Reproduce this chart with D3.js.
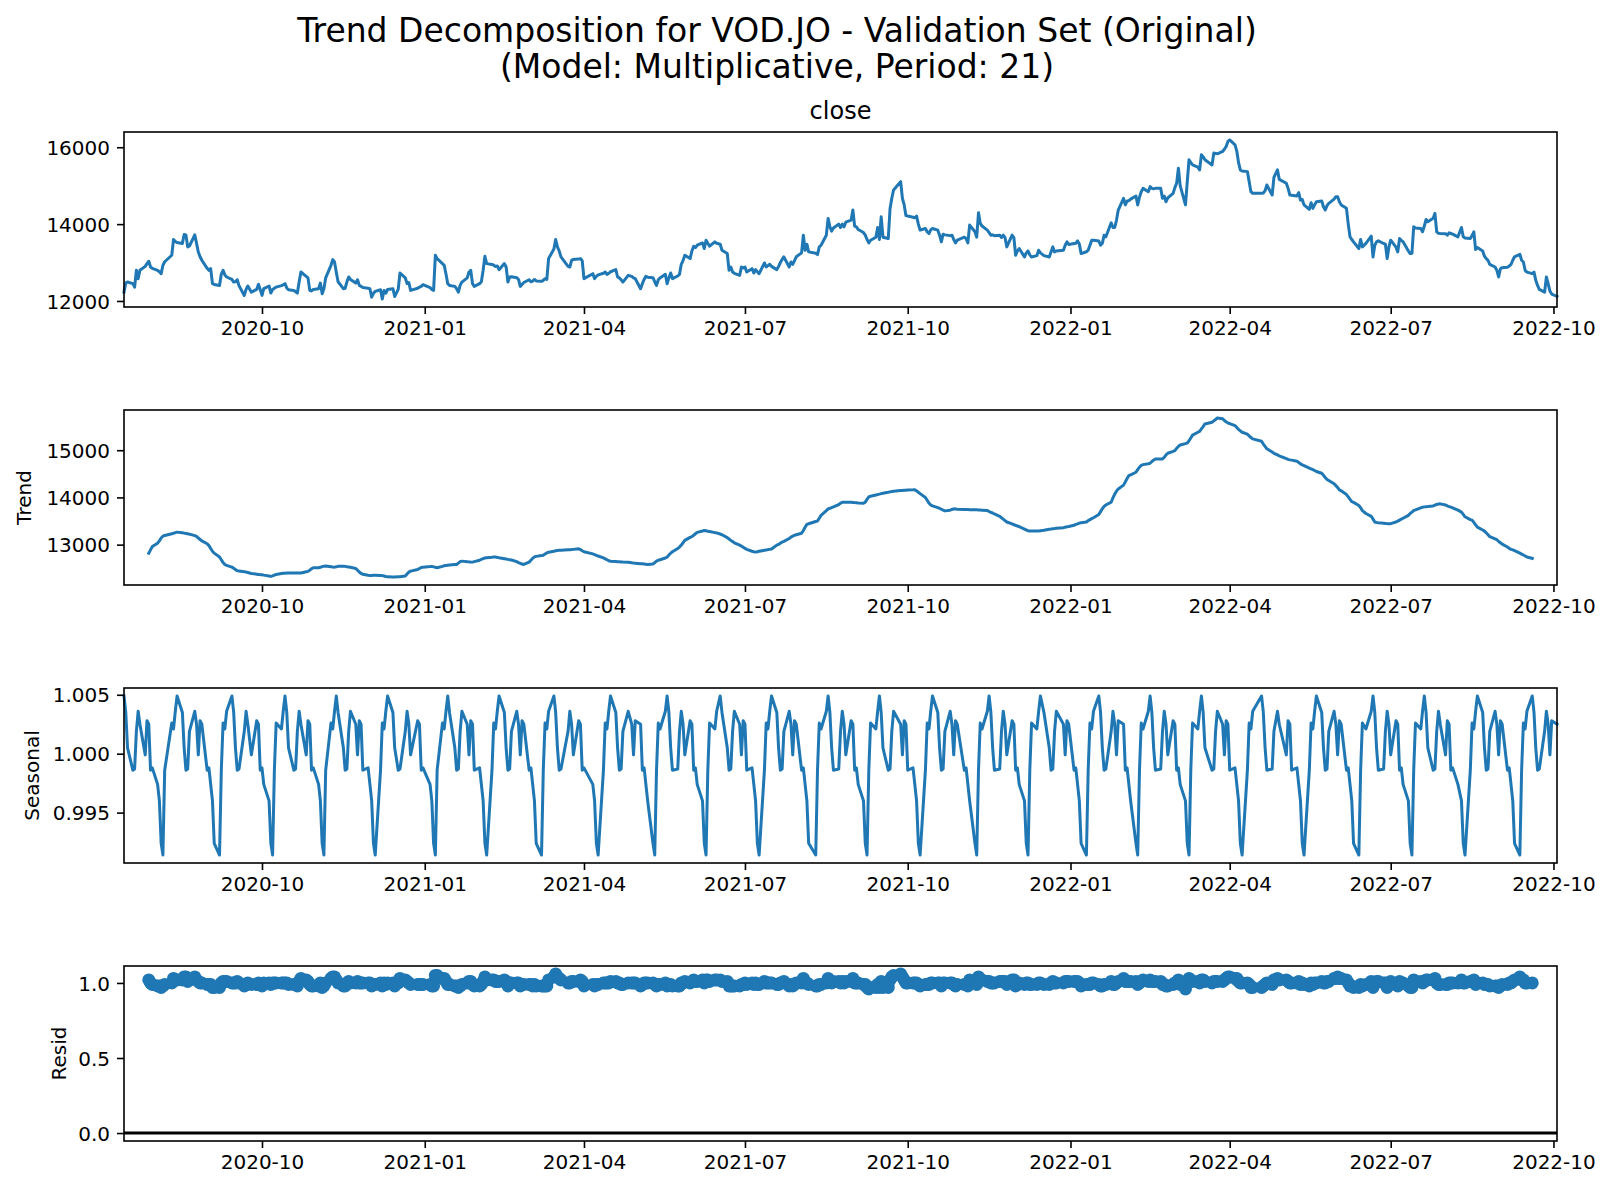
<!DOCTYPE html>
<html>
<head>
<meta charset="utf-8">
<script src="https://cdn.jsdelivr.net/npm/d3@7"></script>
<style>
  body { margin: 0; background: #fff; }
  svg { display: block; }
</style>
</head>
<body>
<div id="chart"></div>
<script>
///// DATA

const titleLines = ['Trend Decomposition for VOD.JO - Validation Set (Original)', '(Model: Multiplicative, Period: 21)'];

// JSE sessions: weekdays between these dates, minus public holidays
const firstSession = '2020-07-15';
const lastSession = '2022-10-03';
const holidays = ['2020-08-10', '2020-09-24', '2020-12-16', '2020-12-25', '2021-01-01', '2021-03-22',
  '2021-04-02', '2021-04-05', '2021-04-27', '2021-06-16', '2021-08-09', '2021-09-24', '2021-11-01',
  '2021-12-16', '2021-12-27', '2022-03-21', '2022-04-15', '2022-04-18', '2022-04-27', '2022-05-02',
  '2022-06-16', '2022-08-09'];

// observed close, one row per month
const close = [
  12230, 12470, 12492, 12450, 12361, 12797, 12580, 12800, 12900, 12972, 13033, 12884, 12850,
  12797, 12760, 12710, 12928, 13020, 13190, 13600, 13550, 13520, 13495, 13730, 13720, 13407, 13430, 13720, 13500, 13276, 13150, 13059, 12850,
  12797, 12840, 12450, 12430, 12405, 12700, 12797, 12680, 12624, 12560, 12492, 12500, 12553, 12400, 12144, 12300, 12390, 12230, 12300, 12432, 12300,
  12144, 12319, 12390, 12205, 12300, 12330, 12361, 12400, 12420, 12450, 12340, 12290, 12275, 12240, 12205, 12500, 12754, 12640, 12600, 12275, 12260, 12300,
  12319, 12466, 12190, 12319, 12600, 12928, 13077, 13017, 12750, 12500, 12319, 12330, 12500, 12624, 12560, 12466, 12553, 12405, 12380, 12350, 12330,
  12319, 12100, 12200, 12250, 12292, 12050, 12275, 12200, 12300, 12319, 12117, 12300, 12728, 12600, 12450, 12480, 12275, 12330, 12360, 12380, 12424,
  12350, 12300, 12275, 13190, 13100, 12972, 12928, 12700, 12450, 12405, 12380, 12319, 12230, 12405, 12492, 12600, 12754, 12797, 12450, 12380,
  12450, 12500, 12800, 13164, 12972, 12950, 12930, 12900, 12910, 12815, 12972, 12884, 12492, 12624, 12630, 12606, 12560, 12380, 12430, 12480,
  12553, 12500, 12519, 12560, 12520, 12510, 12536, 12580, 12560, 13103, 13350, 13600, 13407, 13300, 13146, 12900, 12884, 13059, 13080, 13090, 13103, 13050,
  12580, 12710, 12580, 12640, 12680, 12720, 12754, 12693, 12720, 12760, 12815, 12624, 12600, 12550, 12492, 12667, 12640, 12600, 12580,
  12319, 12450, 12560, 12640, 12620, 12606, 12500, 12405, 12553, 12600, 12693, 12450, 12600, 12728, 12580, 12650, 12693, 12954, 13050, 13190, 13103,
  13300, 13425, 13390, 13450, 13510, 13364, 13580, 13500, 13425, 13538, 13500, 13477, 13320, 13233, 12797, 12884, 12754, 12720, 12667, 12884, 12860,
  12884, 12754, 12840, 12728, 12815, 12760, 12710, 12989, 12884, 12920, 12954, 12900, 12815, 12900, 13000, 13080, 13146, 12884, 13015, 12954, 13050, 13150,
  13251, 13712, 13320, 13477, 13277, 13240, 13207, 13407, 13450, 13712, 14149, 13930, 13817, 13900, 14000, 13913, 14000, 13930, 14050, 14105, 14366,
  13948, 13930, 13860, 13780, 13712, 13600, 13512, 13580, 13660, 13913, 13600, 14191, 13660, 13625, 14400, 14672, 14888, 15106, 14672, 14500, 14220,
  14209, 14180, 14166, 14209, 14000, 13843, 13887, 13800, 13756, 13850, 13887, 13843, 13712, 13538, 13738, 13720, 13700, 13712, 13600, 13512, 13582,
  13660, 13620, 13512, 13974, 13800, 13660, 14296, 14017, 13950, 13843, 13780, 13712, 13720, 13700, 13712, 13651, 13712, 13650, 13407, 13712, 13650,
  13190, 13300, 13364, 13146, 13250, 13303, 13200, 13146, 13180, 13320, 13251, 13180, 13146, 13277, 13407, 13277, 13300, 13320, 13450, 13538, 13469,
  13495, 13500, 13564, 13480, 13233, 13280, 13320, 13450, 13582, 13582, 13560, 13451, 13500, 13712, 13669, 14034, 13913, 13913, 14100, 14366, 14672,
  14500, 14600, 14610, 14650, 14730, 14500, 14700, 14844, 14930, 14844, 14975, 14930, 14920, 14930, 14930, 14672, 14730, 14583, 14680, 14800,
  14950, 15062, 15456, 15000, 14500, 15100, 15673, 15600, 15540, 15480, 15410, 15803, 15750, 15673, 15540, 15848, 15840, 15830, 15890, 15950, 16020, 16150,
  16190, 16064, 15900, 15600, 15410, 15380, 15366, 15100, 14844, 14800, 14800, 14810, 14870, 15017, 14757, 15215, 15410, 15164,
  15062, 14930, 14757, 14750, 14730, 14818, 14626, 14640, 14500, 14383, 14557, 14410, 14500, 14583, 14600, 14450, 14366, 14480, 14540, 14650, 14713,
  14713, 14583, 14500, 14410, 14000, 13669, 13600, 13538, 13364, 13600, 13407, 13500, 13686, 13146, 13450, 13538, 13564, 13495, 13480, 13103, 13407,
  13582, 13400, 13277, 13625, 13580, 13538, 13300, 13233, 13240, 13930, 13900, 13887, 13800, 13950, 14122, 14060, 14150, 14279, 13800, 13760, 13756,
  13750, 13712, 13773, 13756, 13740, 13669, 13913, 13669, 13640, 13625, 13700, 13800, 13338, 13390, 13300, 13164, 13100, 13059, 12950, 12884, 12797, 12624,
  12840, 12867, 12880, 12910, 12950, 13059, 13150, 13216, 13059, 13015, 12797, 12750, 12710, 12754, 12536, 12405, 12300, 12230, 12624, 12450, 12258, 12180,
  12119
];

// trend (centred 21-session moving average, empty at both ends)
const trend = [
  null, null, null, null, null, null, null, null, null, null,
  12820, 12890, 12962,
  13031, 13080, 13140, 13180, 13195, 13232, 13240, 13255, 13265, 13250, 13244, 13238, 13230, 13222, 13190, 13174, 13140, 13110, 13080, 13019,
  12980, 12920, 12860, 12820, 12740, 12680, 12620, 12580, 12560, 12524, 12500, 12470, 12450, 12440, 12425, 12419, 12410, 12390, 12375, 12370, 12365,
  12363, 12355, 12335, 12328, 12340, 12355, 12370, 12388, 12392, 12395, 12398, 12399, 12399, 12399, 12400, 12400, 12400, 12425, 12434, 12460, 12490, 12512,
  12512, 12520, 12535, 12545, 12547, 12530, 12525, 12524, 12530, 12540, 12545, 12540, 12530, 12525, 12520, 12495, 12460, 12420, 12390, 12372, 12352,
  12349, 12349, 12350, 12350, 12349, 12345, 12335, 12325, 12318, 12314, 12316, 12320, 12322, 12335, 12380, 12419, 12440, 12475, 12495, 12515, 12524,
  12535, 12540, 12530, 12520, 12512, 12540, 12555, 12560, 12565, 12570, 12578, 12580, 12610, 12640, 12651, 12640, 12635, 12632, 12630, 12640,
  12670, 12690, 12705, 12718, 12725, 12733, 12737, 12737, 12730, 12722, 12702, 12695, 12688, 12682, 12675, 12640, 12620, 12605, 12590, 12580,
  12630, 12670, 12710, 12740, 12752, 12768, 12775, 12800, 12825, 12840, 12860, 12870, 12877, 12880, 12882, 12890, 12891, 12895, 12900, 12912, 12895, 12870,
  12850, 12805, 12790, 12775, 12760, 12720, 12700, 12680, 12660, 12650, 12642, 12640, 12638, 12635, 12632, 12628, 12615, 12610, 12607,
  12598, 12595, 12590, 12585, 12582, 12590, 12620, 12650, 12670, 12680, 12718, 12735, 12780, 12820, 12850, 12920, 12948, 12990, 13040, 13090, 13155,
  13170, 13200, 13230, 13260, 13290, 13301, 13295, 13285, 13278, 13255, 13248, 13225, 13210, 13150, 13120, 13090, 13065, 13040, 12990, 12970, 12945,
  12920, 12900, 12860, 12850, 12842, 12850, 12860, 12880, 12885, 12895, 12900, 12908, 12990, 13005, 13030, 13055, 13070, 13130, 13160, 13180, 13200, 13210,
  13240, 13300, 13370, 13430, 13442, 13490, 13500, 13560, 13620, 13720, 13758, 13770, 13785, 13800, 13850, 13875, 13899, 13899, 13900, 13899, 13895,
  13890, 13885, 13880, 13878, 13900, 13960, 14010, 14025, 14050, 14061, 14070, 14080, 14090, 14110, 14118, 14125, 14130, 14145, 14146, 14150, 14152,
  14155, 14160, 14160, 14140, 14110, 14080, 14000, 13940, 13880, 13840, 13820, 13785, 13770, 13750, 13730, 13715, 13730, 13745, 13758, 13755, 13750,
  13746, 13744, 13742, 13740, 13738, 13737, 13736, 13733, 13730, 13723, 13700, 13685, 13670, 13650, 13600, 13570, 13540, 13510, 13480, 13440, 13420,
  13410, 13395, 13380, 13330, 13310, 13295, 13288, 13287, 13287, 13290, 13295, 13305, 13325, 13330, 13336, 13340, 13345, 13360, 13370, 13378, 13385,
  13410, 13428, 13440, 13455, 13465, 13480, 13510, 13530, 13550, 13570, 13639, 13700, 13760, 13810, 13840, 13899, 13990, 14070, 14132, 14180, 14260,
  14330, 14400, 14463, 14480, 14533, 14590, 14640, 14680, 14695, 14715, 14723, 14760, 14790, 14815, 14815, 14815, 14850, 14900, 14935, 14975,
  14991, 15040, 15080, 15110, 15140, 15150, 15200, 15260, 15320, 15380, 15400, 15450, 15500, 15556, 15591, 15620, 15650, 15683, 15665, 15630, 15600, 15575,
  15565, 15521, 15480, 15440, 15410, 15380, 15340, 15300, 15270, 15240, 15190, 15130, 15080, 15030, 14960, 14935, 14900, 14880,
  14820, 14805, 14795, 14790, 14768, 14740, 14710, 14690, 14674, 14620, 14604, 14590, 14570, 14550, 14512, 14470, 14420, 14380, 14357, 14290, 14250,
  14210, 14160, 14140, 14061, 14010, 13960, 13910, 13895, 13829, 13780, 13720, 13660, 13600, 13540, 13480, 13470, 13465, 13455, 13450, 13445, 13441,
  13445, 13480, 13498, 13520, 13540, 13560, 13620, 13660, 13690, 13723, 13735, 13780, 13794, 13800, 13805, 13808, 13820, 13835, 13850, 13860, 13864,
  13840, 13820, 13805, 13795, 13780, 13730, 13690, 13640, 13590, 13530, 13520, 13470, 13420, 13370, 13310, 13287, 13250, 13210, 13170, 13120, 13104, 13070,
  13040, 13010, 12950, 12920, 12900, 12891, 12875, 12821, 12800, 12780, 12760, 12740, 12710,
  null, null, null, null, null, null, null, null, null, null
];

// seasonal factor, one row per 21-session cycle
const seasonal = [
  1.0049, 1.0035, 1.0005, 0.9986, 0.9987, 1.0019, 1.0036, 1.0025, 0.9999, 1.0028, 1.0025, 0.9986, 0.9988, 0.9974, 0.9960, 0.9924, 0.9914, 0.9986, 1.0026, 1.0021, 1.0036,
  1.0049, 1.0035, 1.0005, 0.9986, 0.9987, 1.0019, 1.0036, 1.0025, 0.9999, 1.0028, 1.0025, 0.9986, 0.9988, 0.9974, 0.9960, 0.9924, 0.9914, 0.9986, 1.0026, 1.0021, 1.0036,
  1.0049, 1.0035, 1.0005, 0.9986, 0.9987, 1.0019, 1.0036, 1.0025, 0.9999, 1.0028, 1.0025, 0.9986, 0.9988, 0.9974, 0.9960, 0.9924, 0.9914, 0.9986, 1.0026, 1.0021, 1.0036,
  1.0049, 1.0035, 1.0005, 0.9986, 0.9987, 1.0019, 1.0036, 1.0025, 0.9999, 1.0028, 1.0025, 0.9986, 0.9988, 0.9974, 0.9960, 0.9924, 0.9914, 0.9986, 1.0026, 1.0021, 1.0036,
  1.0049, 1.0035, 1.0005, 0.9986, 0.9987, 1.0019, 1.0036, 1.0025, 0.9999, 1.0028, 1.0025, 0.9986, 0.9988, 0.9974, 0.9960, 0.9924, 0.9914, 0.9986, 1.0026, 1.0021, 1.0036,
  1.0049, 1.0035, 1.0005, 0.9986, 0.9987, 1.0019, 1.0036, 1.0025, 0.9999, 1.0028, 1.0025, 0.9986, 0.9988, 0.9974, 0.9960, 0.9924, 0.9914, 0.9986, 1.0026, 1.0021, 1.0036,
  1.0049, 1.0035, 1.0005, 0.9986, 0.9987, 1.0019, 1.0036, 1.0025, 0.9999, 1.0028, 1.0025, 0.9986, 0.9988, 0.9974, 0.9960, 0.9924, 0.9914, 0.9986, 1.0026, 1.0021, 1.0036,
  1.0049, 1.0035, 1.0005, 0.9986, 0.9987, 1.0019, 1.0036, 1.0025, 0.9999, 1.0028, 1.0025, 0.9986, 0.9988, 0.9974, 0.9960, 0.9924, 0.9914, 0.9986, 1.0026, 1.0021, 1.0036,
  1.0049, 1.0035, 1.0005, 0.9986, 0.9987, 1.0019, 1.0036, 1.0025, 0.9999, 1.0028, 1.0025, 0.9986, 0.9988, 0.9974, 0.9960, 0.9924, 0.9914, 0.9986, 1.0026, 1.0021, 1.0036,
  1.0049, 1.0035, 1.0005, 0.9986, 0.9987, 1.0019, 1.0036, 1.0025, 0.9999, 1.0028, 1.0025, 0.9986, 0.9988, 0.9974, 0.9960, 0.9924, 0.9914, 0.9986, 1.0026, 1.0021, 1.0036,
  1.0049, 1.0035, 1.0005, 0.9986, 0.9987, 1.0019, 1.0036, 1.0025, 0.9999, 1.0028, 1.0025, 0.9986, 0.9988, 0.9974, 0.9960, 0.9924, 0.9914, 0.9986, 1.0026, 1.0021, 1.0036,
  1.0049, 1.0035, 1.0005, 0.9986, 0.9987, 1.0019, 1.0036, 1.0025, 0.9999, 1.0028, 1.0025, 0.9986, 0.9988, 0.9974, 0.9960, 0.9924, 0.9914, 0.9986, 1.0026, 1.0021, 1.0036,
  1.0049, 1.0035, 1.0005, 0.9986, 0.9987, 1.0019, 1.0036, 1.0025, 0.9999, 1.0028, 1.0025, 0.9986, 0.9988, 0.9974, 0.9960, 0.9924, 0.9914, 0.9986, 1.0026, 1.0021, 1.0036,
  1.0049, 1.0035, 1.0005, 0.9986, 0.9987, 1.0019, 1.0036, 1.0025, 0.9999, 1.0028, 1.0025, 0.9986, 0.9988, 0.9974, 0.9960, 0.9924, 0.9914, 0.9986, 1.0026, 1.0021, 1.0036,
  1.0049, 1.0035, 1.0005, 0.9986, 0.9987, 1.0019, 1.0036, 1.0025, 0.9999, 1.0028, 1.0025, 0.9986, 0.9988, 0.9974, 0.9960, 0.9924, 0.9914, 0.9986, 1.0026, 1.0021, 1.0036,
  1.0049, 1.0035, 1.0005, 0.9986, 0.9987, 1.0019, 1.0036, 1.0025, 0.9999, 1.0028, 1.0025, 0.9986, 0.9988, 0.9974, 0.9960, 0.9924, 0.9914, 0.9986, 1.0026, 1.0021, 1.0036,
  1.0049, 1.0035, 1.0005, 0.9986, 0.9987, 1.0019, 1.0036, 1.0025, 0.9999, 1.0028, 1.0025, 0.9986, 0.9988, 0.9974, 0.9960, 0.9924, 0.9914, 0.9986, 1.0026, 1.0021, 1.0036,
  1.0049, 1.0035, 1.0005, 0.9986, 0.9987, 1.0019, 1.0036, 1.0025, 0.9999, 1.0028, 1.0025, 0.9986, 0.9988, 0.9974, 0.9960, 0.9924, 0.9914, 0.9986, 1.0026, 1.0021, 1.0036,
  1.0049, 1.0035, 1.0005, 0.9986, 0.9987, 1.0019, 1.0036, 1.0025, 0.9999, 1.0028, 1.0025, 0.9986, 0.9988, 0.9974, 0.9960, 0.9924, 0.9914, 0.9986, 1.0026, 1.0021, 1.0036,
  1.0049, 1.0035, 1.0005, 0.9986, 0.9987, 1.0019, 1.0036, 1.0025, 0.9999, 1.0028, 1.0025, 0.9986, 0.9988, 0.9974, 0.9960, 0.9924, 0.9914, 0.9986, 1.0026, 1.0021, 1.0036,
  1.0049, 1.0035, 1.0005, 0.9986, 0.9987, 1.0019, 1.0036, 1.0025, 0.9999, 1.0028, 1.0025, 0.9986, 0.9988, 0.9974, 0.9960, 0.9924, 0.9914, 0.9986, 1.0026, 1.0021, 1.0036,
  1.0049, 1.0035, 1.0005, 0.9986, 0.9987, 1.0019, 1.0036, 1.0025, 0.9999, 1.0028, 1.0025, 0.9986, 0.9988, 0.9974, 0.9960, 0.9924, 0.9914, 0.9986, 1.0026, 1.0021, 1.0036,
  1.0049, 1.0035, 1.0005, 0.9986, 0.9987, 1.0019, 1.0036, 1.0025, 0.9999, 1.0028, 1.0025, 0.9986, 0.9988, 0.9974, 0.9960, 0.9924, 0.9914, 0.9986, 1.0026, 1.0021, 1.0036,
  1.0049, 1.0035, 1.0005, 0.9986, 0.9987, 1.0019, 1.0036, 1.0025, 0.9999, 1.0028, 1.0025, 0.9986, 0.9988, 0.9974, 0.9960, 0.9924, 0.9914, 0.9986, 1.0026, 1.0021, 1.0036,
  1.0049, 1.0035, 1.0005, 0.9986, 0.9987, 1.0019, 1.0036, 1.0025, 0.9999, 1.0028, 1.0025, 0.9986, 0.9988, 0.9974, 0.9960, 0.9924, 0.9914, 0.9986, 1.0026, 1.0021, 1.0036,
  1.0049, 1.0035, 1.0005, 0.9986, 0.9987, 1.0019, 1.0036, 1.0025, 0.9999, 1.0028, 1.0025, 0.9986, 0.9988, 0.9974, 0.9960, 0.9924, 0.9914, 0.9986, 1.0026, 1.0021, 1.0036,
  1.0049, 1.0035, 1.0005, 0.9986, 0.9987, 1.0019, 1.0036, 1.0025, 0.9999, 1.0028, 1.0025
];

// residual, one row per month (empty at both ends like trend)
const resid = [
  null, null, null, null, null, null, null, null, null, null,
  1.02, 1.00, 0.99,
  0.98, 0.98, 0.97, 0.98, 0.99, 1.00, 1.03, 1.02, 1.02, 1.02, 1.04, 1.04, 1.01, 1.02, 1.04, 1.02, 1.01, 1.00, 1.00, 0.99,
  0.99, 0.99, 0.97, 0.97, 0.97, 1.00, 1.01, 1.01, 1.01, 1.00, 1.00, 1.00, 1.01, 1.00, 0.98, 0.99, 1.00, 0.99, 0.99, 1.00, 0.99,
  0.98, 1.00, 1.00, 0.99, 1.00, 1.00, 1.00, 1.00, 1.00, 1.00, 1.00, 0.99, 0.99, 0.99, 0.98, 1.01, 1.03, 1.02, 1.01, 0.99, 0.98, 0.98,
  0.98, 1.00, 0.97, 0.98, 1.00, 1.03, 1.04, 1.04, 1.02, 1.00, 0.98, 0.98, 1.00, 1.01, 1.00, 1.00, 1.01, 1.00, 1.00, 1.00, 1.00,
  1.00, 0.98, 0.99, 0.99, 1.00, 0.98, 1.00, 0.99, 1.00, 1.00, 0.98, 1.00, 1.03, 1.02, 1.01, 1.00, 0.99, 0.99, 0.99, 0.99, 0.99,
  0.99, 0.98, 0.98, 1.05, 1.05, 1.03, 1.03, 1.01, 0.99, 0.99, 0.98, 0.98, 0.97, 0.98, 0.99, 1.00, 1.01, 1.01, 0.99, 0.98,
  0.98, 0.99, 1.01, 1.04, 1.02, 1.02, 1.02, 1.01, 1.01, 1.01, 1.02, 1.01, 0.98, 1.00, 1.00, 1.00, 1.00, 0.98, 0.99, 0.99,
  0.99, 0.99, 0.98, 0.99, 0.98, 0.98, 0.98, 0.98, 0.98, 1.02, 1.04, 1.06, 1.04, 1.03, 1.02, 1.00, 1.00, 1.01, 1.01, 1.01, 1.02, 1.01,
  0.98, 0.99, 0.98, 0.99, 0.99, 1.00, 1.00, 1.00, 1.00, 1.01, 1.01, 1.00, 1.00, 0.99, 0.99, 1.00, 1.00, 1.00, 1.00,
  0.98, 0.99, 1.00, 1.00, 1.00, 1.00, 0.99, 0.98, 0.99, 0.99, 1.00, 0.98, 0.99, 0.99, 0.98, 0.98, 0.98, 1.00, 1.00, 1.01, 1.00,
  1.01, 1.02, 1.01, 1.01, 1.02, 1.00, 1.02, 1.02, 1.01, 1.02, 1.02, 1.02, 1.01, 1.01, 0.98, 0.98, 0.98, 0.98, 0.98, 0.99, 0.99,
  1.00, 0.99, 1.00, 0.99, 1.00, 0.99, 0.99, 1.01, 1.00, 1.00, 1.00, 1.00, 0.99, 0.99, 1.00, 1.00, 1.01, 0.98, 0.99, 0.98, 0.99, 1.00,
  1.00, 1.03, 1.00, 1.00, 0.99, 0.98, 0.98, 0.99, 0.99, 1.00, 1.03, 1.01, 1.00, 1.01, 1.01, 1.00, 1.01, 1.00, 1.01, 1.01, 1.03,
  1.00, 1.00, 1.00, 0.99, 0.99, 0.97, 0.96, 0.97, 0.97, 0.99, 0.97, 1.01, 0.97, 0.97, 1.02, 1.04, 1.05, 1.06, 1.04, 1.02, 1.00,
  1.00, 1.00, 1.00, 1.00, 0.99, 0.98, 0.99, 0.99, 0.99, 1.00, 1.00, 1.00, 1.00, 0.98, 1.00, 1.00, 1.00, 1.00, 0.99, 0.98, 0.99,
  0.99, 0.99, 0.98, 1.02, 1.00, 0.99, 1.04, 1.02, 1.02, 1.01, 1.01, 1.00, 1.00, 1.00, 1.01, 1.01, 1.01, 1.01, 0.99, 1.02, 1.02,
  0.98, 0.99, 1.00, 0.99, 1.00, 1.00, 0.99, 0.99, 0.99, 1.00, 1.00, 0.99, 0.99, 1.00, 1.01, 1.00, 1.00, 1.00, 1.01, 1.01, 1.01,
  1.01, 1.01, 1.01, 1.00, 0.98, 0.99, 0.99, 0.99, 1.00, 1.00, 0.99, 0.98, 0.98, 0.99, 0.99, 1.01, 0.99, 0.99, 1.00, 1.01, 1.03,
  1.01, 1.01, 1.01, 1.01, 1.01, 0.99, 1.00, 1.01, 1.02, 1.01, 1.02, 1.01, 1.01, 1.01, 1.01, 0.99, 0.99, 0.98, 0.98, 0.99,
  1.00, 1.00, 1.02, 0.99, 0.96, 1.00, 1.03, 1.02, 1.01, 1.01, 1.00, 1.02, 1.02, 1.01, 1.00, 1.01, 1.01, 1.01, 1.01, 1.02, 1.03, 1.04,
  1.04, 1.03, 1.03, 1.01, 1.00, 1.00, 1.00, 0.99, 0.97, 0.97, 0.97, 0.98, 0.99, 1.00, 0.99, 1.02, 1.03, 1.02,
  1.02, 1.01, 1.00, 1.00, 1.00, 1.01, 0.99, 1.00, 0.99, 0.98, 1.00, 0.99, 1.00, 1.00, 1.01, 1.00, 1.00, 1.01, 1.01, 1.03, 1.03,
  1.04, 1.03, 1.03, 1.02, 1.00, 0.98, 0.98, 0.97, 0.97, 0.99, 0.98, 0.99, 1.01, 0.97, 1.00, 1.01, 1.01, 1.00, 1.00, 0.97, 1.00,
  1.01, 0.99, 0.98, 1.01, 1.00, 1.00, 0.98, 0.97, 0.97, 1.02, 1.01, 1.01, 1.00, 1.01, 1.02, 1.02, 1.02, 1.03, 1.00, 0.99, 0.99,
  0.99, 0.99, 1.00, 1.00, 1.00, 1.00, 1.02, 1.00, 1.00, 1.01, 1.01, 1.02, 0.99, 1.00, 1.00, 0.99, 0.99, 0.99, 0.98, 0.98, 0.98, 0.97,
  0.98, 0.99, 0.99, 1.00, 1.00, 1.01, 1.02, 1.04, 1.02, 1.02, 1.00, 1.00, 1.00,
  null, null, null, null, null, null, null, null, null, null
];

// TICKS
const closeTicks = [12000, 14000, 16000];
const trendTicks = [13000, 14000, 15000];
const seasonalTicks = [0.995, 1.000, 1.005];
const residTicks = [0.0, 0.5, 1.0];

///// BUILD SESSION DATES
const parseDay = d3.utcParse('%Y-%m-%d');
const fmtDay = d3.utcFormat('%Y-%m-%d');
const holidaySet = new Set(holidays);
const dates = d3.utcDay.range(parseDay(firstSession), d3.utcDay.offset(parseDay(lastSession), 1))
  .filter(d => d.getUTCDay() !== 0 && d.getUTCDay() !== 6 && !holidaySet.has(fmtDay(d)));

const n = Math.min(dates.length, close.length, trend.length, seasonal.length, resid.length);
if (n !== dates.length) console.warn('length mismatch', dates.length, close.length, trend.length, seasonal.length, resid.length);

///// LAYOUT
const W = 1611, H = 1191;
const LEFT = 124, RIGHT = 1557;
const PANEL_TOP = [132, 410, 688, 966];
const PANEL_H = 175;
const BLUE = '#1f77b4';
const FONT = "'DejaVu Sans', 'Liberation Sans', sans-serif";

const svg = d3.select('#chart').append('svg')
  .attr('width', W)
  .attr('height', H)
  .style('font-family', FONT);

svg.append('rect').attr('width', W).attr('height', H).attr('fill', '#fff');

// SUPTITLE
const sup = svg.append('text')
  .attr('text-anchor', 'middle')
  .attr('font-size', 33)
  .attr('fill', '#000');
sup.append('tspan').attr('x', 777).attr('y', 42).text(titleLines[0]);
sup.append('tspan').attr('x', 777).attr('y', 77.5).text(titleLines[1]);

const x = d3.scaleUtc()
  .domain([dates[0], dates[n - 1]])
  .range([LEFT, RIGHT]);

const panels = [
  { values: close, ticks: closeTicks, fmt: d3.format('d'), title: 'close' },
  { values: trend, ticks: trendTicks, fmt: d3.format('d'), ylabel: 'Trend', labelGap: 15.5 },
  { values: seasonal, ticks: seasonalTicks, fmt: d3.format('.3f'), ylabel: 'Seasonal', labelGap: 13.5 },
  { values: resid, ticks: residTicks, fmt: d3.format('.1f'), ylabel: 'Resid', labelGap: 12.5, dots: true, zero: true }
];

panels.forEach((p, i) => {
  const top = PANEL_TOP[i];
  const bottom = top + PANEL_H;
  const pts = d3.range(n).map(k => ({ date: dates[k], v: p.values[k] }));

  // Y SCALE with 5% margins like matplotlib autoscale
  const ext = d3.extent(p.zero ? p.values.slice(0, n).concat([0]) : p.values.slice(0, n));
  const pad = (ext[1] - ext[0]) * 0.05;
  const y = d3.scaleLinear()
    .domain([ext[0] - pad, ext[1] + pad])
    .range([bottom, top]);

  const g = svg.append('g').attr('class', 'panel-' + i);

  if (p.zero) {
    g.append('line')
      .attr('x1', x(dates[0]))
      .attr('x2', x(dates[n - 1]))
      .attr('y1', y(0))
      .attr('y2', y(0))
      .attr('stroke', '#000')
      .attr('stroke-width', 3);
  }

  if (p.dots) {
    g.selectAll('circle')
      .data(pts.filter(d => d.v != null))
      .enter()
      .append('circle')
      .attr('cx', d => x(d.date))
      .attr('cy', d => y(d.v))
      .attr('r', 6.5)
      .attr('fill', BLUE);
  } else {
    const line = d3.line()
      .defined(d => d.v != null)
      .x(d => x(d.date))
      .y(d => y(d.v));
    g.append('path')
      .datum(pts)
      .attr('d', line)
      .attr('fill', 'none')
      .attr('stroke', BLUE)
      .attr('stroke-width', 3)
      .attr('stroke-linejoin', 'round')
      .attr('stroke-linecap', 'square');
  }

  // FRAME
  g.append('rect')
    .attr('x', LEFT)
    .attr('y', top)
    .attr('width', RIGHT - LEFT)
    .attr('height', PANEL_H)
    .attr('fill', 'none')
    .attr('stroke', '#000')
    .attr('stroke-width', 1.6);

  // X AXIS
  g.append('g')
    .attr('transform', `translate(0,${bottom})`)
    .call(d3.axisBottom(x)
      .ticks(d3.utcMonth.every(3))
      .tickFormat(d3.utcFormat('%Y-%m'))
      .tickSize(7)
      .tickPadding(7))
    .call(a => a.attr('font-family', null).attr('font-size', null))
    .call(a => a.select('.domain').remove())
    .call(a => a.selectAll('line').attr('stroke', '#000').attr('stroke-width', 1.6))
    .call(a => a.selectAll('text').attr('font-size', 20).attr('fill', '#000').attr('dy', '0.71em'));

  // Y AXIS
  const yAxis = g.append('g')
    .attr('transform', `translate(${LEFT},0)`)
    .call(d3.axisLeft(y)
      .tickValues(p.ticks)
      .tickFormat(p.fmt)
      .tickSize(7)
      .tickPadding(7))
    .call(a => a.attr('font-family', null).attr('font-size', null))
    .call(a => a.select('.domain').remove())
    .call(a => a.selectAll('line').attr('stroke', '#000').attr('stroke-width', 1.6))
    .call(a => a.selectAll('text').attr('font-size', 20).attr('fill', '#000').attr('dy', '0.36em'));

  if (p.title) {
    g.append('text')
      .attr('x', (LEFT + RIGHT) / 2)
      .attr('y', top - 13)
      .attr('text-anchor', 'middle')
      .attr('font-size', 24)
      .attr('fill', '#000')
      .text(p.title);
  }

  if (p.ylabel) {
    const minLeft = LEFT + d3.min(yAxis.selectAll('text').nodes(), nd => nd.getBBox().x);
    g.append('text')
      .attr('transform', `translate(${minLeft - p.labelGap},${(top + bottom) / 2}) rotate(-90)`)
      .attr('text-anchor', 'middle')
      .attr('font-size', 20)
      .attr('fill', '#000')
      .text(p.ylabel);
  }
});
</script>
</body>
</html>
